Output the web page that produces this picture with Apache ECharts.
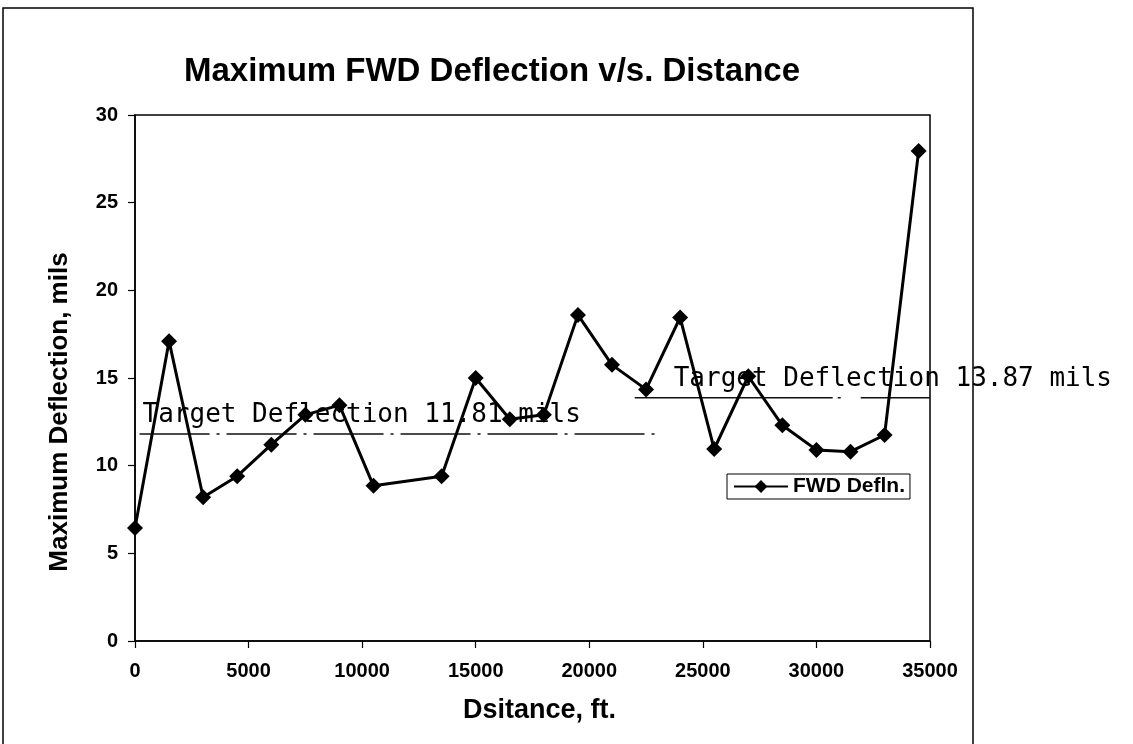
<!DOCTYPE html>
<html>
<head>
<meta charset="utf-8">
<script src="https://cdn.jsdelivr.net/npm/echarts@6/dist/echarts.min.js"></script>
<style>
  html, body { margin: 0; padding: 0; background: #fff; }
  #chart { width: 1133px; height: 744px; }
</style>
</head>
<body>
<div id="chart"></div>
<script>
// Distance along the section (ft) and maximum FWD deflection at each station (mils)
const distances = [0, 1500, 3000, 4500, 6000, 7500, 9000, 10500, 13500, 15000, 16500, 18000,
  19500, 21000, 22500, 24000, 25500, 27000, 28500, 30000, 31500, 33000, 34500];
const deflections = [6.45, 17.1, 8.2, 9.4, 11.2, 12.9, 13.45, 8.85, 9.4, 15.0, 12.65, 12.9,
  18.6, 15.75, 14.35, 18.45, 10.95, 15.1, 12.3, 10.9, 10.8, 11.75, 27.95];

// Target deflection for each analysis unit: value (mils) and the distance range it covers (ft)
const targetValues = [11.81, 13.87];
const targetFrom = [200, 22000];
const targetTo = [23000, 35000];

const xTicks = { min: 0, max: 35000, step: 5000 };
const yTicks = { min: 0, max: 30, step: 5 };

const sans = '"Liberation Sans", Arial, sans-serif';
const mono = '"DejaVu Sans Mono", monospace';

const chart = echarts.init(document.getElementById('chart'), null, { renderer: 'canvas' });

const targetDash = [[70, 7, 3, 7], [198, 5, 3, 20]];

const targetSeries = targetValues.map((v, i) => ({
  name: 'target' + i,
  type: 'line',
  data: [[targetFrom[i], v], [targetTo[i], v]],
  symbol: 'none',
  silent: true,
  z: 1,
  lineStyle: { color: '#111', width: 1.5, type: targetDash[i] }
}));

chart.setOption({
  animation: false,
  backgroundColor: '#fff',
  title: {
    text: 'Maximum FWD Deflection v/s. Distance',
    left: 487,
    top: 50,
    textAlign: 'center',
    textStyle: { fontFamily: sans, fontSize: 33, fontWeight: 'bold', color: '#000' }
  },
  legend: {
    data: ['FWD Defln.'],
    left: 727,
    top: 474,
    orient: 'vertical',
    backgroundColor: '#fff',
    borderColor: '#000',
    borderWidth: 1,
    borderRadius: 0,
    padding: [2, 5, 2, 6],
    itemWidth: 54,
    itemHeight: 16,
    textStyle: { fontFamily: sans, fontSize: 21, fontWeight: 'bold', color: '#000' }
  },
  grid: {
    left: 135, top: 115, right: 203, bottom: 103,
    show: true, borderColor: '#000', borderWidth: 1.5, backgroundColor: 'transparent'
  },
  xAxis: {
    type: 'value',
    min: xTicks.min, max: xTicks.max, interval: xTicks.step,
    name: 'Dsitance, ft.',
    nameLocation: 'middle',
    nameGap: 56,
    nameTextStyle: { fontFamily: sans, fontSize: 27, fontWeight: 'bold', color: '#000', padding: [0, 0, 0, 14] },
    axisLine: { lineStyle: { color: '#000', width: 1.5 } },
    axisTick: { show: true, length: 7, lineStyle: { color: '#000', width: 1.2 } },
    axisLabel: {
      fontFamily: sans, fontSize: 20, fontWeight: 'bold', color: '#000', margin: 20,
      formatter: v => String(v)
    },
    splitLine: { show: false }
  },
  yAxis: {
    type: 'value',
    min: yTicks.min, max: yTicks.max, interval: yTicks.step,
    axisLine: { show: true, lineStyle: { color: '#000', width: 1.5 } },
    axisTick: { show: true, length: 7, lineStyle: { color: '#000', width: 1.2 } },
    axisLabel: { fontFamily: sans, fontSize: 20, fontWeight: 'bold', color: '#000', margin: 17 },
    splitLine: { show: false }
  },
  series: [
    ...targetSeries,
    {
      name: 'FWD Defln.',
      type: 'line',
      data: distances.map((d, i) => [d, deflections[i]]),
      symbol: 'diamond',
      symbolSize: 16,
      z: 3,
      itemStyle: { color: '#000' },
      lineStyle: { color: '#000', width: 3 }
    }
  ]
});

// Outer frame, vertical y-axis title and the target line labels
const labelShift = [3, 39];
const graphics = [{
  type: 'rect',
  shape: { x: 3, y: 8, width: 970, height: 760 },
  style: { fill: 'none', stroke: '#000', lineWidth: 1.5 },
  z: 0,
  silent: true
}, {
  type: 'text',
  x: 60,
  y: 412,
  rotation: Math.PI / 2,
  silent: true,
  style: {
    text: 'Maximum Deflection, mils',
    font: 'bold 26px ' + sans,
    fill: '#000',
    textAlign: 'center',
    textVerticalAlign: 'middle'
  }
}];
targetValues.forEach((v, i) => {
  const p = chart.convertToPixel({ gridIndex: 0 }, [targetFrom[i], v]);
  graphics.push({
    type: 'text',
    x: p[0] + labelShift[i],
    y: p[1] - 6,
    z: 10,
    silent: true,
    style: {
      text: 'Target Deflection ' + v.toFixed(2) + ' mils',
      font: '26px ' + mono,
      fill: '#000',
      textAlign: 'left',
      textVerticalAlign: 'bottom'
    }
  });
});
chart.setOption({ graphic: graphics });
</script>
</body>
</html>
